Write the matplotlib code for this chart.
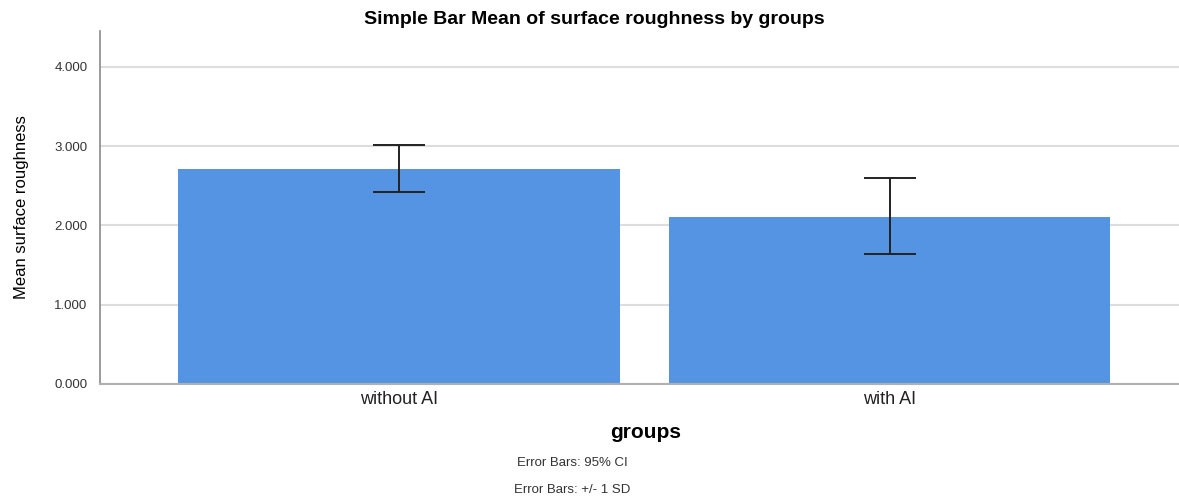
import numpy as np
import matplotlib as mpl
mpl.use("Agg")
import matplotlib.pyplot as plt

mpl.rcParams.update({
    "font.family": "sans-serif",
    "font.sans-serif": ["Liberation Sans", "DejaVu Sans"],
})

# data
groups = ["without AI", "with AI"]
means = [2.71, 2.11]
err_low = [2.42, 1.64]
err_high = [3.01, 2.60]
yticks = [0, 1, 2, 3, 4]

bar_color = "#5594e2"

fig = plt.figure(figsize=(11.79, 5.0), dpi=100)
ax = fig.add_axes([100 / 1179, 1 - 384 / 500, 1 - 100 / 1179, (384 - 31) / 500])

x = np.arange(len(groups))
means = np.array(means)
yerr = np.vstack([means - np.array(err_low), np.array(err_high) - means])

ax.bar(x, means, width=0.9, color=bar_color, zorder=2)
ax.errorbar(x, means, yerr=yerr, fmt="none", ecolor="#222222",
            elinewidth=1.4, capsize=19, capthick=1.4, zorder=3)

ax.set_xlim(-0.61, 1.59)
ax.set_ylim(0, 4.45)
ax.set_yticks(yticks)
ax.set_yticklabels([f"{v:.3f}" for v in yticks])
ax.set_xticks(x)
ax.set_xticklabels(groups)

ax.grid(axis="y", color="#dddddd", lw=1.5, zorder=0)
ax.set_axisbelow(True)
for s in ["top", "right"]:
    ax.spines[s].set_visible(False)
ax.spines["left"].set_color("#8a8a8a")
ax.spines["bottom"].set_color("#b0b0b0")
ax.spines["left"].set_linewidth(1.2)
ax.spines["bottom"].set_linewidth(1.5)

ax.tick_params(axis="y", length=0, pad=9, labelsize=9.5, labelcolor="#333333")
ax.tick_params(axis="x", length=0, pad=5, labelsize=13, labelcolor="#222222")

ax.set_ylabel("Mean surface roughness", fontsize=12)
ax.yaxis.set_label_coords(-0.066, 0.5)

fig.text(594 / 1179, 1 - 19 / 500, "Simple Bar Mean of surface roughness by groups",
         ha="center", va="center", fontsize=14, fontweight="bold")
fig.text(646 / 1179, 1 - 433 / 500, "groups", ha="center", va="center",
         fontsize=15, fontweight="bold")
fig.text(572 / 1179, 1 - 463 / 500, "Error Bars: 95% CI", ha="center",
         va="center", fontsize=9.5, color="#333333")
fig.text(572 / 1179, 1 - 490 / 500, "Error Bars: +/- 1 SD", ha="center",
         va="center", fontsize=9.5, color="#333333")

fig.savefig("out.png", dpi=100)
